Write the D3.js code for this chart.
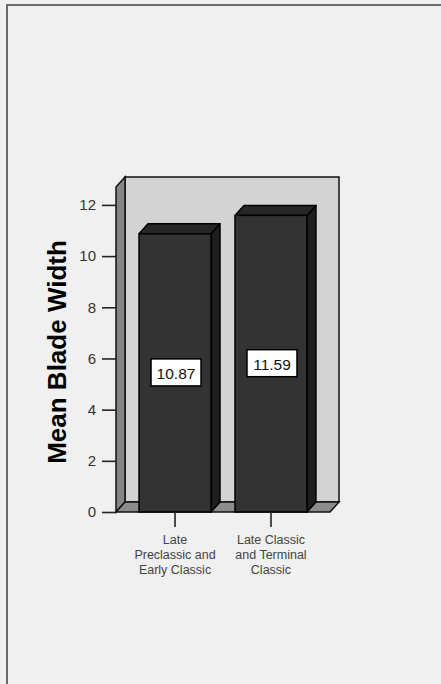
<!DOCTYPE html>
<html><head><meta charset="utf-8">
<script src="https://cdn.jsdelivr.net/npm/d3@7"></script>
<style>
html,body{margin:0;padding:0;background:#f0f0f0;}
svg{display:block;}
</style></head>
<body>
<script>
// ---- data ----
const categories = ["Late Preclassic and Early Classic", "Late Classic and Terminal Classic"];
const categoryLines = [["Late", "Preclassic and", "Early Classic"], ["Late Classic", "and Terminal", "Classic"]];
const values = [10.87, 11.59];
const valueLabels = ["10.87", "11.59"];
const yTicks = [0, 2, 4, 6, 8, 10, 12];
const yTitle = "Mean Blade Width";

// ---- layout ----
const W = 441, H = 684;
const dx = 9, dy = -10;
const yMax = 12.7;
const svg = d3.select("body").append("svg").attr("width", W).attr("height", H);

svg.append("rect").attr("width", W).attr("height", H).attr("fill", "#f0f0f0");
// outer frame (left + top)
svg.append("path").attr("d", `M7,${H} L7,5 L${W},5`).attr("fill", "none").attr("stroke", "#6a6a6a").attr("stroke-width", 2);

const y = d3.scaleLinear().domain([0, yMax]).range([512, 187]);
const x = d3.scaleBand().domain(categories).range([116, 330]).paddingInner(0.25).paddingOuter(0.24);

const x0 = 116, x1 = 330, yb = y(0), yt = y(yMax);

// back wall
svg.append("polygon")
  .attr("points", [[x0+dx, yb+dy], [x0+dx, yt+dy], [x1+dx, yt+dy], [x1+dx, yb+dy]].join(" "))
  .attr("fill", "#d3d3d3").attr("stroke", "#111").attr("stroke-width", 1.5);
// left wall
svg.append("polygon")
  .attr("points", [[x0, yb], [x0, yt], [x0+dx, yt+dy], [x0+dx, yb+dy]].join(" "))
  .attr("fill", "#858585").attr("stroke", "#111").attr("stroke-width", 1.5);
// floor
svg.append("polygon")
  .attr("points", [[x0, yb], [x0+dx, yb+dy], [x1+dx, yb+dy], [x1, yb]].join(" "))
  .attr("fill", "#8c8c8c").attr("stroke", "#111").attr("stroke-width", 1.5);

// bars
const bars = svg.selectAll("g.bar").data(categories).enter().append("g").attr("class", "bar");
bars.each(function(c, i) {
  const g = d3.select(this);
  const bx0 = x(c), bx1 = x(c) + x.bandwidth(), by = y(values[i]);
  g.append("polygon")
    .attr("points", [[bx1, by], [bx1+dx, by+dy], [bx1+dx, yb+dy], [bx1, yb]].join(" "))
    .attr("fill", "#1e1e1e").attr("stroke", "#000").attr("stroke-width", 1.5).attr("stroke-linejoin", "round");
  g.append("polygon")
    .attr("points", [[bx0, by], [bx0+dx, by+dy], [bx1+dx, by+dy], [bx1, by]].join(" "))
    .attr("fill", "#262626").attr("stroke", "#000").attr("stroke-width", 1.5).attr("stroke-linejoin", "round");
  g.append("rect")
    .attr("x", bx0).attr("y", by).attr("width", x.bandwidth()).attr("height", yb - by)
    .attr("fill", "#333333").attr("stroke", "#000").attr("stroke-width", 1.5);
  // value label
  const cx = bx0 + x.bandwidth()/2 + 1, cy = (by + yb)/2;
  g.append("rect").attr("x", cx - 25).attr("y", cy - 14).attr("width", 50).attr("height", 27)
    .attr("fill", "#fff").attr("stroke", "#000").attr("stroke-width", 1.5);
  g.append("text").attr("x", cx).attr("y", cy + 6).attr("text-anchor", "middle")
    .attr("font-family", "Liberation Sans, Arial, sans-serif").attr("font-size", 15.5).attr("fill", "#111")
    .text(valueLabels[i]);
});

// y axis
const yAxis = d3.axisLeft(y).tickValues(yTicks).tickSize(14).tickPadding(6).tickFormat(d3.format("d"));
const ya = svg.append("g").attr("transform", `translate(${x0},0)`).call(yAxis);
ya.select(".domain").remove();
ya.selectAll(".tick line").attr("stroke", "#222").attr("stroke-width", 1.6);
ya.selectAll(".tick text").attr("font-family", "Liberation Sans, Arial, sans-serif").attr("font-size", 15).attr("fill", "#333");

// x axis
const xAxis = d3.axisBottom(x).tickSize(15).tickFormat("");
const xa = svg.append("g").attr("transform", `translate(0,${yb})`).call(xAxis);
xa.select(".domain").remove();
xa.selectAll(".tick line").attr("stroke", "#222").attr("stroke-width", 1.6);
xa.selectAll(".tick").each(function(c, i) {
  const t = d3.select(this).append("text").attr("text-anchor", "middle")
    .attr("font-family", "Liberation Sans, Arial, sans-serif").attr("font-size", 12.5).attr("fill", "#444");
  categoryLines[i].forEach((line, k) => {
    t.append("tspan").attr("x", 0).attr("y", 32 + k * 15).text(line);
  });
});

// y title
svg.append("text")
  .attr("transform", `translate(66,352) rotate(-90)`)
  .attr("text-anchor", "middle")
  .attr("font-family", "Liberation Sans, Arial, sans-serif").attr("font-weight", "bold").attr("font-size", 26)
  .attr("fill", "#000").text(yTitle);
</script>
</body></html>
